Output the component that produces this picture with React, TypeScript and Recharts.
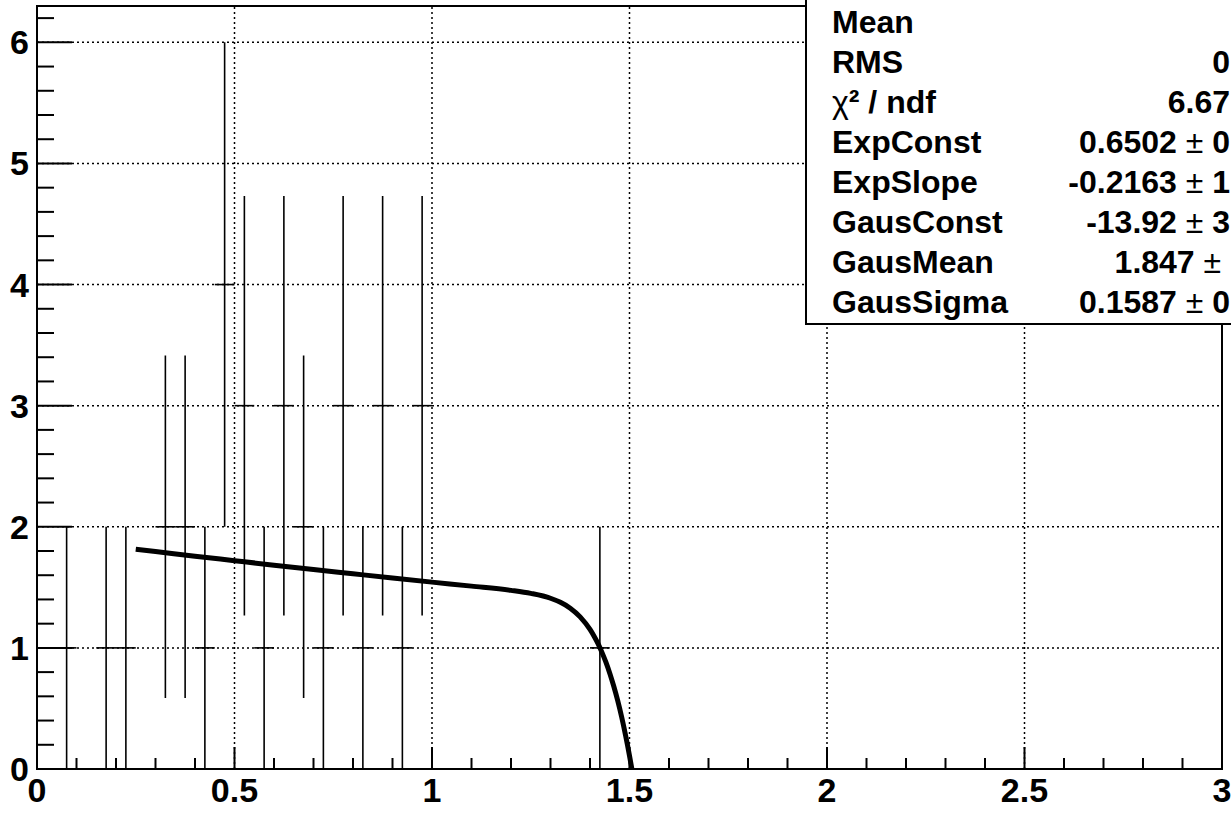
import React from "react";
import {
  ComposedChart,
  XAxis,
  YAxis,
  Scatter,
  Line,
  ErrorBar,
  ReferenceLine,
  ReferenceArea,
} from "recharts";

// histogram bins that hold entries (bin width 0.05)
const binCenters = [0.075, 0.175, 0.225, 0.325, 0.375, 0.425, 0.475, 0.525, 0.575, 0.625, 0.675, 0.725, 0.775, 0.825, 0.875, 0.925, 0.975, 1.425];
const binCounts = [1, 1, 1, 2, 2, 1, 4, 3, 1, 3, 2, 1, 3, 1, 3, 1, 3, 1];
const countErrors = [1, 1, 1, 1.414, 1.414, 1, 2, 1.732, 1, 1.732, 1.414, 1, 1.732, 1, 1.732, 1, 1.732, 1];
const halfBin = 0.025;

// fitted curve (exp + gaus)
const fitX = [0.25, 0.3, 0.4, 0.5, 0.6, 0.7, 0.8, 0.9, 1.0, 1.1, 1.2, 1.25, 1.3, 1.325, 1.35, 1.375, 1.4, 1.41, 1.42, 1.43, 1.44, 1.45, 1.46, 1.47, 1.48, 1.49, 1.5, 1.506];
const fitY = [1.815, 1.796, 1.757, 1.72, 1.683, 1.647, 1.612, 1.577, 1.543, 1.51, 1.475, 1.45, 1.41, 1.376, 1.328, 1.256, 1.152, 1.098, 1.037, 0.965, 0.884, 0.791, 0.685, 0.566, 0.431, 0.279, 0.11, 0];

const xTicks = [0, 0.1, 0.2, 0.3, 0.4, 0.5, 0.6, 0.7, 0.8, 0.9, 1, 1.1, 1.2, 1.3, 1.4, 1.5, 1.6, 1.7, 1.8, 1.9, 2, 2.1, 2.2, 2.3, 2.4, 2.5, 2.6, 2.7, 2.8, 2.9, 3];
const yTicks = [0, 0.2, 0.4, 0.6, 0.8, 1, 1.2, 1.4, 1.6, 1.8, 2, 2.2, 2.4, 2.6, 2.8, 3, 3.2, 3.4, 3.6, 3.8, 4, 4.2, 4.4, 4.6, 4.8, 5, 5.2, 5.4, 5.6, 5.8, 6, 6.2];
const xGrid = [0.5, 1, 1.5, 2, 2.5];
const yGrid = [1, 2, 3, 4, 5, 6];

const statLabels = ["Mean", "RMS", "χ² / ndf", "ExpConst", "ExpSlope", "GausConst", "GausMean", "GausSigma"];
const statValues = ["", "0", "6.67", "0.6502 ± 0", "-0.2163 ± 1", "-13.92 ± 3", "1.847 ±\u00a0", "0.1587 ± 0"];

const FONT = "'Liberation Sans', Arial, Helvetica, sans-serif";

const points = binCenters.map((x, i) => ({ x, y: binCounts[i], ey: countErrors[i], ex: halfBin }));
const curve = fitX.map((x, i) => ({ x, y: fitY[i] }));

const isMajorX = (v: number) => Math.abs(v * 2 - Math.round(v * 2)) < 1e-6;
const isMajorY = (v: number) => Math.abs(v - Math.round(v)) < 1e-6;

const XTick = (props: any) => {
  const { x, y, payload } = props;
  const major = isMajorX(payload.value);
  return (
    <g>
      <line x1={x} x2={x} y1={y} y2={y - (major ? 22 : 11)} stroke="#000" strokeWidth={2} />
      {major && (
        <text x={x} y={y + 33} textAnchor="middle" fontFamily={FONT} fontWeight="bold" fontSize={34} fill="#000">
          {payload.value}
        </text>
      )}
    </g>
  );
};

const YTick = (props: any) => {
  const { x, y, payload } = props;
  const major = isMajorY(payload.value);
  return (
    <g>
      <line x1={x} x2={x + (major ? 35 : 17)} y1={y} y2={y} stroke="#000" strokeWidth={2} />
      {major && (
        <text x={x - 8} y={y + 12} textAnchor="end" fontFamily={FONT} fontWeight="bold" fontSize={34} fill="#000">
          {payload.value}
        </text>
      )}
    </g>
  );
};

// symbols in ROOT text come from a non-bold font
const renderText = (s: string) =>
  s.split(/([χ±])/).map((part, i) =>
    part === "χ" || part === "±" ? (
      <span key={i} style={{ fontWeight: 400 }}>{part}</span>
    ) : (
      <span key={i}>{part}</span>
    )
  );

const App: React.FC = () => {
  return (
    <div
      style={{
        position: "absolute",
        left: 0,
        top: 0,
        width: 1231,
        height: 813,
        overflow: "hidden",
        background: "#fff",
      }}
    >
      <ComposedChart width={1231} height={813} margin={{ top: 6, right: 9, bottom: 0, left: 0 }}>
        <XAxis
          dataKey="x"
          type="number"
          domain={[0, 3]}
          ticks={xTicks}
          interval={0}
          height={44}
          allowDataOverflow
          axisLine={false}
          tickLine={false}
          tickSize={0}
          tickMargin={0}
          tick={<XTick />}
        />
        <YAxis
          dataKey="y"
          type="number"
          domain={[0, 6.3]}
          ticks={yTicks}
          interval={0}
          width={37}
          allowDataOverflow
          axisLine={false}
          tickLine={false}
          tickSize={0}
          tickMargin={0}
          tick={<YTick />}
        />
        {xGrid.map((v) => (
          <ReferenceLine key={"gx" + v} x={v} stroke="#000" strokeWidth={1.5} strokeDasharray="2 3" />
        ))}
        {yGrid.map((v) => (
          <ReferenceLine key={"gy" + v} y={v} stroke="#000" strokeWidth={1.5} strokeDasharray="2 3" />
        ))}
        <Scatter data={points} dataKey="y" shape={() => <g />} isAnimationActive={false}>
          <ErrorBar dataKey="ey" direction="y" width={0} stroke="#000" strokeWidth={1.6} isAnimationActive={false} />
          <ErrorBar dataKey="ex" direction="x" width={0} stroke="#000" strokeWidth={1.6} isAnimationActive={false} />
        </Scatter>
        <Line
          data={curve}
          dataKey="y"
          type="monotone"
          stroke="#000"
          strokeWidth={5}
          dot={false}
          isAnimationActive={false}
        />
        <ReferenceArea x1={0} x2={3} y1={0} y2={6.3} fill="none" stroke="#000" strokeWidth={2} />
      </ComposedChart>
      <div
        style={{
          position: "absolute",
          left: 805,
          top: -2,
          width: 450,
          height: 327,
          boxSizing: "border-box",
          border: "2px solid #000",
          background: "#fff",
          fontFamily: FONT,
          fontWeight: "bold",
          fontSize: 32,
          color: "#000",
        }}
      >
        {statLabels.map((label, i) => (
          <div
            key={label}
            style={{ position: "absolute", left: 0, right: 0, top: 2 + i * 40, height: 40, lineHeight: "40px", whiteSpace: "pre" }}
          >
            <span style={{ position: "absolute", left: 25 }}>{renderText(label)}</span>
            <span style={{ position: "absolute", right: 23 }}>{renderText(statValues[i])}</span>
          </div>
        ))}
      </div>
    </div>
  );
};

export default App;
